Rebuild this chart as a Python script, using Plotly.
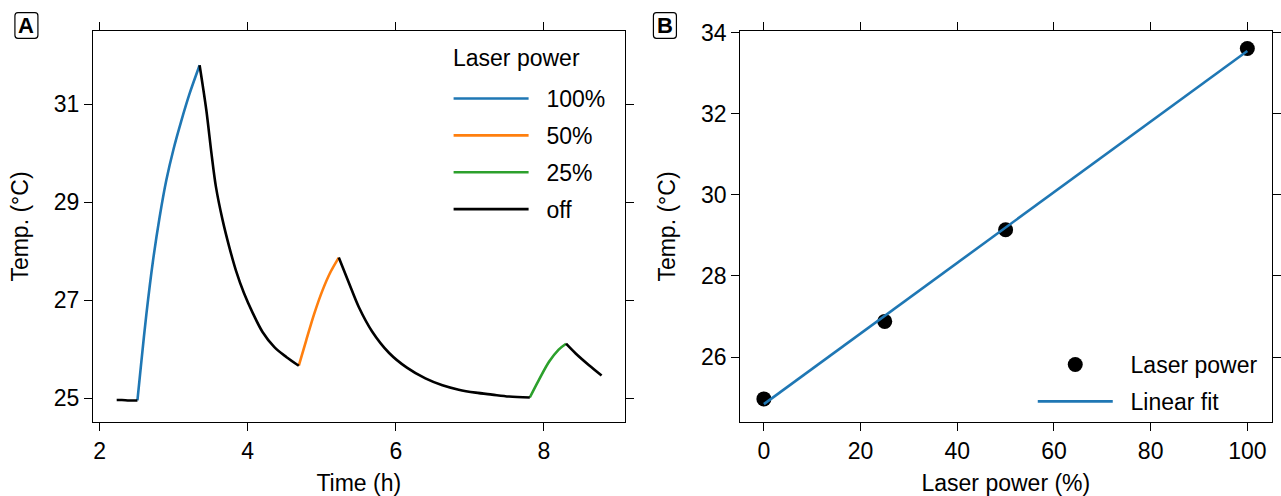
import numpy as np
import plotly.graph_objects as go

W, H = 1281, 496
MT, MB = 31, 74
PLOT_H = H - MT - MB

# ---------------- Panel A: temperature vs time ----------------
time_off_1 = [2.23, 2.30, 2.40, 2.51]
temp_off_1 = [24.96, 24.96, 24.95, 24.95]
time_100 = [2.51, 2.56, 2.63, 2.72, 2.81, 2.90, 3.00, 3.10, 3.21, 3.35]
temp_100 = [24.95, 25.70, 26.70, 27.80, 28.70, 29.45, 30.10, 30.65, 31.20, 31.80]
time_off_2 = [3.35, 3.44, 3.51, 3.57, 3.66, 3.75, 3.84, 3.95, 4.07, 4.20, 4.36, 4.52, 4.69]
temp_off_2 = [31.80, 30.89, 30.00, 29.32, 28.64, 28.09, 27.61, 27.14, 26.73, 26.35, 26.04, 25.84, 25.66]
time_50 = [4.69, 4.79, 4.90, 5.01, 5.12, 5.23]
temp_50 = [25.66, 26.18, 26.73, 27.20, 27.58, 27.87]
time_off_3 = [5.23, 5.37, 5.50, 5.68, 5.91, 6.15, 6.40, 6.63, 6.85, 7.08, 7.30, 7.53, 7.81]
temp_off_3 = [27.87, 27.34, 26.86, 26.36, 25.92, 25.62, 25.40, 25.26, 25.17, 25.11, 25.07, 25.03, 25.01]
time_25 = [7.81, 7.93, 8.07, 8.20, 8.30]
temp_25 = [25.01, 25.36, 25.74, 25.99, 26.11]
time_off_4 = [8.30, 8.43, 8.61, 8.78]
temp_off_4 = [26.11, 25.91, 25.67, 25.46]

time_ticks = [2, 4, 6, 8]
temp_ticks_a = [25, 27, 29, 31]

# ---------------- Panel B: peak temperature vs laser power ----------------
power_pct = [0, 25, 50, 100]
peak_temp = [24.97, 26.88, 29.14, 33.61]
power_ticks = [0, 20, 40, 60, 80, 100]
temp_ticks_b = [26, 28, 30, 32, 34]

BLUE, ORANGE, GREEN, BLACK = "#1f77b4", "#ff7f0e", "#2ca02c", "#000000"
FONT = "Liberation Sans, Arial, Helvetica, sans-serif"
FS = 23
PAD = "\u00a0\u00a0"


def join(*segs):
    xs, ys = [], []
    for i, (sx, sy) in enumerate(segs):
        if i:
            xs.append(None)
            ys.append(None)
        xs += sx
        ys += sy
    return xs, ys


fig = go.Figure()
line_kw = dict(width=2.6, shape="spline", smoothing=0.9)
fig.add_trace(go.Scatter(x=time_100, y=temp_100, mode="lines", name=PAD + "100%", legendgroup="p100",
                         line=dict(color=BLUE, **line_kw), xaxis="x", yaxis="y", legend="legend"))
fig.add_trace(go.Scatter(x=time_50, y=temp_50, mode="lines", name=PAD + "50%", legendgroup="p50",
                         line=dict(color=ORANGE, **line_kw), xaxis="x", yaxis="y", legend="legend"))
fig.add_trace(go.Scatter(x=time_25, y=temp_25, mode="lines", name=PAD + "25%", legendgroup="p25",
                         line=dict(color=GREEN, **line_kw), xaxis="x", yaxis="y", legend="legend"))
ox, oy = join((time_off_1, temp_off_1), (time_off_2, temp_off_2),
              (time_off_3, temp_off_3), (time_off_4, temp_off_4))
fig.add_trace(go.Scatter(x=ox, y=oy, mode="lines", name=PAD + "off", legendgroup="poff", connectgaps=False,
                         line=dict(color=BLACK, **line_kw), xaxis="x", yaxis="y", legend="legend"))

fig.add_trace(go.Scatter(x=power_pct, y=peak_temp, mode="markers", name=PAD + "Laser power",
                         legendgroup="pts", marker=dict(color=BLACK, size=15),
                         xaxis="x2", yaxis="y2", legend="legend2"))
slope, intercept = np.polyfit(power_pct, peak_temp, 1)
fit_x = [min(power_pct), max(power_pct)]
fit_y = [intercept + slope * v for v in fit_x]
fig.add_trace(go.Scatter(x=fit_x, y=fit_y, mode="lines", name=PAD + "Linear fit", legendgroup="fit",
                         line=dict(color=BLUE, width=2.6), xaxis="x2", yaxis="y2", legend="legend2"))

axis_common = dict(showline=True, linecolor="black", linewidth=1, mirror="ticks",
                   ticks="outside", ticklen=8, tickwidth=1, tickcolor="black",
                   showgrid=False, zeroline=False,
                   tickfont=dict(family=FONT, size=FS, color="black"),
                   title_font=dict(family=FONT, size=FS, color="black"))

fig.update_layout(
    width=W, height=H,
    margin=dict(l=0, r=0, t=MT, b=MB, pad=0),
    paper_bgcolor="white", plot_bgcolor="white",
    font=dict(family=FONT, size=FS, color="black"),
    xaxis=dict(domain=[93.3 / W, 626.5 / W], range=[1.91, 9.09], tickvals=time_ticks,
               title=dict(text="Time (h)", standoff=12), **axis_common),
    yaxis=dict(domain=[0, 1], range=[24.51, 32.50], tickvals=temp_ticks_a,
               title=dict(text="Temp. (°C)", standoff=18), **axis_common),
    xaxis2=dict(domain=[742.5 / W, 1275.5 / W], range=[-4.9, 105.0], tickvals=power_ticks,
                anchor="y2", title=dict(text="Laser power (%)", standoff=12), **axis_common),
    yaxis2=dict(domain=[0, 1], range=[24.40, 34.04], tickvals=temp_ticks_b,
                anchor="x2", title=dict(text="Temp. (°C)", standoff=18), **axis_common),
    legend=dict(x=450 / W, xanchor="left", y=1 - 46 / PLOT_H, yanchor="top",
                bgcolor="rgba(0,0,0,0)", borderwidth=0, itemwidth=75, tracegroupgap=4,
                font=dict(family=FONT, size=FS)),
    legend2=dict(x=1036 / W, xanchor="left", y=-1 / PLOT_H, yanchor="bottom",
                 bgcolor="rgba(0,0,0,0)", borderwidth=0, itemwidth=75, tracegroupgap=4,
                 font=dict(family=FONT, size=FS)),
)

# legend heading of panel A
fig.add_annotation(text="Laser power", xref="paper", yref="paper", x=452 / W, y=(422 - 58) / PLOT_H,
                   xanchor="left", yanchor="middle", showarrow=False,
                   font=dict(family=FONT, size=FS, color="black"))

# panel tags with rounded boxes
box = ("M -8.5,-12.8 L 8.5,-12.8 Q 11.5,-12.8 11.5,-9.8 L 11.5,9.8 Q 11.5,12.8 8.5,12.8 "
       "L -8.5,12.8 Q -11.5,12.8 -11.5,9.8 L -11.5,-9.8 Q -11.5,-12.8 -8.5,-12.8 Z")
for label, cx in (("A", 26.5), ("B", 667.0)):
    cy = (422 - 25.5) / PLOT_H
    fig.add_shape(type="path", path=box, xref="paper", yref="paper",
                  xsizemode="pixel", ysizemode="pixel", xanchor=cx / W, yanchor=cy,
                  line=dict(color="black", width=1.2), fillcolor="white")
    fig.add_annotation(text="<b>%s</b>" % label, xref="paper", yref="paper",
                       x=cx / W, y=cy, xanchor="center", yanchor="middle",
                       showarrow=False, font=dict(family=FONT, size=22, color="black"))

fig.write_html("out.html")
